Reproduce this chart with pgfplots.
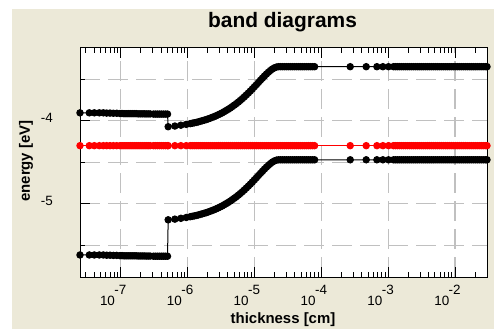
\documentclass[border=0pt]{standalone}
\usepackage{pgfplots}
\pgfplotsset{compat=1.18}
\usepackage{pgfplotstable}
\usepackage{fontspec}
\setmainfont{Liberation Sans}
\definecolor{bgc}{RGB}{236,233,216}
\definecolor{gridc}{RGB}{192,192,192}

% L = log10(thickness/cm), Ec, Ef, Ev in eV
\pgfplotstableread{
L Ec Ef Ev
-7.609 -3.905 -4.30 -5.615
-7.47 -3.905 -4.30 -5.615
-7.395 -3.905 -4.30 -5.615
-7.32 -3.905 -4.30 -5.615
-7.26 -3.905 -4.30 -5.615
-7.21 -3.908 -4.30 -5.618
-7.16 -3.908 -4.30 -5.618
-7.11 -3.910 -4.30 -5.620
-7.06 -3.910 -4.30 -5.620
-7.01 -3.913 -4.30 -5.623
-6.98 -3.913 -4.30 -5.623
-6.95 -3.915 -4.30 -5.625
-6.92 -3.915 -4.30 -5.625
-6.89 -3.915 -4.30 -5.625
-6.86 -3.915 -4.30 -5.625
-6.83 -3.915 -4.30 -5.625
-6.80 -3.915 -4.30 -5.625
-6.77 -3.915 -4.30 -5.625
-6.74 -3.917 -4.30 -5.627
-6.71 -3.917 -4.30 -5.627
-6.68 -3.917 -4.30 -5.627
-6.65 -3.917 -4.30 -5.627
-6.62 -3.918 -4.30 -5.628
-6.59 -3.918 -4.30 -5.628
-6.56 -3.918 -4.30 -5.628
-6.51 -3.920 -4.30 -5.630
-6.48 -3.920 -4.30 -5.630
-6.45 -3.920 -4.30 -5.630
-6.42 -3.920 -4.30 -5.630
-6.39 -3.920 -4.30 -5.630
-6.36 -3.920 -4.30 -5.630
-6.33 -3.920 -4.30 -5.630
-6.30 -3.920 -4.30 -5.630
-6.29 -4.072 -4.30 -5.192
-6.19 -4.064 -4.30 -5.184
-6.10 -4.054 -4.30 -5.174
-6.02 -4.044 -4.30 -5.164
-5.96 -4.035 -4.30 -5.155
-5.93 -4.030 -4.30 -5.150
-5.90 -4.025 -4.30 -5.145
-5.87 -4.020 -4.30 -5.140
-5.84 -4.014 -4.30 -5.134
-5.81 -4.007 -4.30 -5.127
-5.78 -4.000 -4.30 -5.120
-5.75 -3.993 -4.30 -5.113
-5.72 -3.986 -4.30 -5.106
-5.69 -3.977 -4.30 -5.097
-5.66 -3.969 -4.30 -5.089
-5.63 -3.959 -4.30 -5.079
-5.60 -3.950 -4.30 -5.070
-5.57 -3.939 -4.30 -5.059
-5.54 -3.928 -4.30 -5.048
-5.51 -3.916 -4.30 -5.036
-5.48 -3.904 -4.30 -5.024
-5.45 -3.890 -4.30 -5.010
-5.42 -3.876 -4.30 -4.996
-5.39 -3.862 -4.30 -4.982
-5.36 -3.846 -4.30 -4.966
-5.33 -3.829 -4.30 -4.949
-5.30 -3.812 -4.30 -4.932
-5.27 -3.794 -4.30 -4.914
-5.24 -3.775 -4.30 -4.895
-5.21 -3.755 -4.30 -4.875
-5.18 -3.734 -4.30 -4.854
-5.15 -3.712 -4.30 -4.832
-5.12 -3.689 -4.30 -4.809
-5.09 -3.666 -4.30 -4.786
-5.06 -3.642 -4.30 -4.762
-5.03 -3.617 -4.30 -4.737
-5.00 -3.591 -4.30 -4.711
-4.97 -3.566 -4.30 -4.686
-4.94 -3.539 -4.30 -4.659
-4.91 -3.513 -4.30 -4.633
-4.88 -3.488 -4.30 -4.608
-4.85 -3.462 -4.30 -4.582
-4.82 -3.438 -4.30 -4.558
-4.79 -3.416 -4.30 -4.536
-4.76 -3.395 -4.30 -4.515
-4.73 -3.377 -4.30 -4.497
-4.70 -3.363 -4.30 -4.483
-4.67 -3.354 -4.30 -4.474
-4.64 -3.350 -4.30 -4.470
-4.61 -3.350 -4.30 -4.470
-4.58 -3.350 -4.30 -4.470
-4.55 -3.350 -4.30 -4.470
-4.52 -3.350 -4.30 -4.470
-4.49 -3.350 -4.30 -4.470
-4.46 -3.350 -4.30 -4.470
-4.43 -3.350 -4.30 -4.470
-4.40 -3.350 -4.30 -4.470
-4.37 -3.350 -4.30 -4.470
-4.34 -3.350 -4.30 -4.470
-4.31 -3.350 -4.30 -4.470
-4.28 -3.350 -4.30 -4.470
-4.25 -3.350 -4.30 -4.470
-4.22 -3.350 -4.30 -4.470
-4.19 -3.350 -4.30 -4.470
-4.16 -3.350 -4.30 -4.470
-4.13 -3.350 -4.30 -4.470
-4.10 -3.350 -4.30 -4.470
-3.567 -3.350 -4.30 -4.470
-3.328 -3.350 -4.30 -4.470
-3.168 -3.350 -4.30 -4.470
-3.078 -3.350 -4.30 -4.470
-2.994 -3.350 -4.30 -4.470
-2.92 -3.350 -4.30 -4.470
-2.89 -3.350 -4.30 -4.470
-2.86 -3.350 -4.30 -4.470
-2.83 -3.350 -4.30 -4.470
-2.80 -3.350 -4.30 -4.470
-2.77 -3.350 -4.30 -4.470
-2.74 -3.350 -4.30 -4.470
-2.71 -3.350 -4.30 -4.470
-2.68 -3.350 -4.30 -4.470
-2.65 -3.350 -4.30 -4.470
-2.62 -3.350 -4.30 -4.470
-2.59 -3.350 -4.30 -4.470
-2.56 -3.350 -4.30 -4.470
-2.53 -3.350 -4.30 -4.470
-2.50 -3.350 -4.30 -4.470
-2.47 -3.350 -4.30 -4.470
-2.44 -3.350 -4.30 -4.470
-2.41 -3.350 -4.30 -4.470
-2.38 -3.350 -4.30 -4.470
-2.35 -3.350 -4.30 -4.470
-2.32 -3.350 -4.30 -4.470
-2.29 -3.350 -4.30 -4.470
-2.26 -3.350 -4.30 -4.470
-2.23 -3.350 -4.30 -4.470
-2.20 -3.350 -4.30 -4.470
-2.17 -3.350 -4.30 -4.470
-2.14 -3.350 -4.30 -4.470
-2.11 -3.350 -4.30 -4.470
-2.08 -3.350 -4.30 -4.470
-2.05 -3.350 -4.30 -4.470
-2.02 -3.350 -4.30 -4.470
-1.99 -3.350 -4.30 -4.470
-1.96 -3.350 -4.30 -4.470
-1.93 -3.350 -4.30 -4.470
-1.90 -3.350 -4.30 -4.470
-1.87 -3.350 -4.30 -4.470
-1.84 -3.350 -4.30 -4.470
-1.81 -3.350 -4.30 -4.470
-1.78 -3.350 -4.30 -4.470
-1.75 -3.350 -4.30 -4.470
-1.72 -3.350 -4.30 -4.470
-1.69 -3.350 -4.30 -4.470
-1.66 -3.350 -4.30 -4.470
-1.63 -3.350 -4.30 -4.470
-1.60 -3.350 -4.30 -4.470
-1.57 -3.350 -4.30 -4.470
-1.54 -3.350 -4.30 -4.470
-1.521 -3.350 -4.30 -4.470
}\bands

\newcommand{\dec}[1]{10\kern-0.5bp\raisebox{11bp}{#1}}

\begin{document}
\begin{tikzpicture}
\fill[white] (0bp,0bp) rectangle (494bp,329bp);
\fill[bgc] (12bp,0bp) rectangle (494bp,320bp);
\begin{axis}[
  at={(80bp,52bp)}, anchor=south west,
  width=407bp, height=229bp, scale only axis,
  xmin=-7.609, xmax=-1.521, ymin=-5.88, ymax=-3.125,
  axis background/.style={fill=white},
  clip=false,
  xtick={-7,-6,-5,-4,-3,-2},
  xticklabels={\dec{-7},\dec{-6},\dec{-5},\dec{-4},\dec{-3},\dec{-2}},
  minor xtick={-7.523,-7.398,-7.301,-7.222,-7.155,-7.097,-7.046,
    -6.699,-6.523,-6.398,-6.301,-6.222,-6.155,-6.097,-6.046,
    -5.699,-5.523,-5.398,-5.301,-5.222,-5.155,-5.097,-5.046,
    -4.699,-4.523,-4.398,-4.301,-4.222,-4.155,-4.097,-4.046,
    -3.699,-3.523,-3.398,-3.301,-3.222,-3.155,-3.097,-3.046,
    -2.699,-2.523,-2.398,-2.301,-2.222,-2.155,-2.097,-2.046,
    -1.699},
  ytick={-5,-4}, yticklabels={-5,-4},
  minor ytick={-5.5,-4.5,-3.5},
  xmajorgrids, ymajorgrids, yminorgrids,
  grid style={gridc, line width=1.2bp, dash pattern=on 20bp off 8bp},
  tick align=inside,
  xtick pos=both, ytick pos=left,
  major tick length=10bp, minor tick length=5bp,
  tick style={black, line width=0.9bp},
  axis line style={black, line width=1bp},
  xticklabel style={font=\fontsize{13.5}{16}\selectfont, anchor=base, inner sep=0pt, yshift=-28bp, xshift=-7.5bp},
  yticklabel style={font=\fontsize{13.5}{16}\selectfont, anchor=east, inner sep=0pt, xshift=-27bp, yshift=3bp},
]
\addplot[black, line width=1bp, mark=*, mark size=3.2bp, mark options={solid}] table[x=L, y=Ec]{\bands};
\addplot[red, line width=1bp, mark=*, mark size=3.2bp, mark options={solid}] table[x=L, y=Ef]{\bands};
\addplot[black, line width=1bp, mark=*, mark size=3.2bp, mark options={solid}] table[x=L, y=Ev]{\bands};
\end{axis}
\node[anchor=base, font=\fontsize{21}{25}\selectfont\bfseries] at (282.5bp,301bp) {band diagrams};
\node[anchor=base, font=\fontsize{15}{18}\selectfont\bfseries] at (283bp,6bp) {thickness [cm]};
\node[rotate=90, anchor=center, font=\fontsize{15}{18}\selectfont\bfseries] at (26bp,168bp) {energy [eV]};
\pgfresetboundingbox
\path (0bp,0bp) rectangle (494bp,329bp);
\end{tikzpicture}
\end{document}
